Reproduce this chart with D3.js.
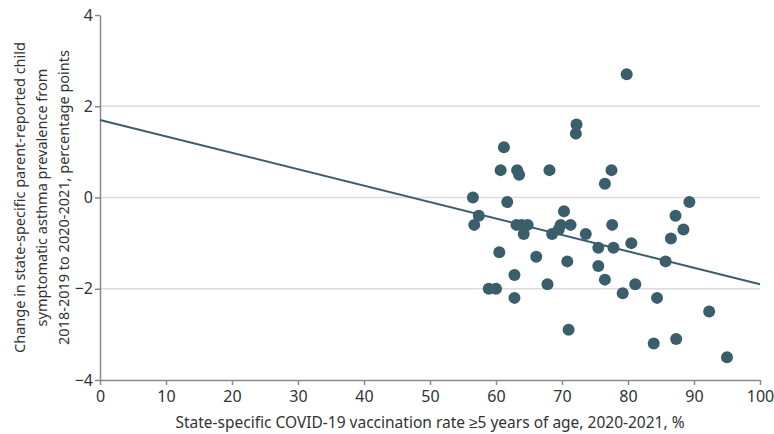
<!DOCTYPE html>
<html>
<head>
<meta charset="utf-8">
<script src="https://cdn.jsdelivr.net/npm/d3@7"></script>
<style>
  body { margin: 0; background: #fff; }
  text { font-family: "Noto Sans", sans-serif; fill: #333; }
</style>
</head>
<body>
<div id="chart"></div>
<script>
let width = 774
let height = 434

// vaccination rate (%) per state
let vaccRate = [56.5, 56.7, 57.4, 60.7, 61.2, 61.7, 60.5, 58.9, 60.0, 62.8,
  62.8, 63.2, 63.5, 63.1, 63.9, 64.2, 64.8, 66.1, 68.1, 68.5,
  67.8, 69.5, 69.8, 70.3, 70.8, 71.0, 71.3, 72.1, 72.2, 73.6,
  75.5, 75.5, 76.5, 76.5, 77.5, 77.6, 77.8, 79.2, 79.8, 80.5,
  81.1, 83.9, 84.4, 85.7, 86.5, 87.3, 87.2, 88.4, 89.3, 92.3, 95.0]

// change in asthma prevalence, percentage points
let asthmaChange = [0.0, -0.6, -0.4, 0.6, 1.1, -0.1, -1.2, -2.0, -2.0, -1.7,
  -2.2, 0.6, 0.5, -0.6, -0.6, -0.8, -0.6, -1.3, 0.6, -0.8,
  -1.9, -0.7, -0.6, -0.3, -1.4, -2.9, -0.6, 1.4, 1.6, -0.8,
  -1.1, -1.5, 0.3, -1.8, 0.6, -0.6, -1.1, -2.1, 2.7, -1.0,
  -1.9, -3.2, -2.2, -1.4, -0.9, -3.1, -0.4, -0.7, -0.1, -2.5, -3.5]

// fitted line endpoints
let fitX = [0, 100]
let fitY = [1.7, -1.9]

let xTicks = [0, 10, 20, 30, 40, 50, 60, 70, 80, 90, 100]
let yTicks = [-4, -2, 0, 2, 4]

let points = vaccRate.map((v, i) => ({ x: v, y: asthmaChange[i] }))

let margin = { left: 100, right: 14, top: 15, bottom: 54 }

let x = d3.scaleLinear().domain([0, 100]).range([margin.left, width - margin.right])
let y = d3.scaleLinear().domain([-4, 4]).range([height - margin.bottom, margin.top])

let svg = d3.select("#chart")
  .append("svg")
  .attr("width", width)
  .attr("height", height)

// gridlines
svg.append("g")
  .selectAll("line")
  .data(yTicks.filter(d => d > -4 && d < 4))
  .enter()
  .append("line")
    .attr("x1", x(0))
    .attr("x2", x(100))
    .attr("y1", d => y(d))
    .attr("y2", d => y(d))
    .attr("stroke", "#dcdcdc")
    .attr("stroke-width", 1.5)

let xAxis = svg.append("g")
  .attr("transform", `translate(0,${y(-4)})`)
  .call(d3.axisBottom(x).tickValues(xTicks).tickSize(5).tickSizeOuter(0))

let yAxis = svg.append("g")
  .attr("transform", `translate(${x(0)},0)`)
  .call(d3.axisLeft(y).tickValues(yTicks).tickSize(5).tickSizeOuter(0))

;[xAxis, yAxis].forEach(a => {
  a.select(".domain").attr("stroke", "#8a8a8a").attr("stroke-width", 1.5)
  a.selectAll(".tick line").attr("stroke", "#8a8a8a").attr("stroke-width", 1.5)
  a.selectAll(".tick text")
    .style("font-family", '"Noto Sans", sans-serif')
    .style("font-size", "16px")
    .attr("fill", "#333")
})
xAxis.selectAll(".tick text").attr("dy", "0.85em")
yAxis.selectAll(".tick text").attr("x", -7)

// regression line
svg.append("line")
  .attr("x1", x(fitX[0]))
  .attr("y1", y(fitY[0]))
  .attr("x2", x(fitX[1]))
  .attr("y2", y(fitY[1]))
  .attr("stroke", "#3b5e6b")
  .attr("stroke-width", 2)

// points
svg.append("g")
  .selectAll("circle")
  .data(points)
  .enter()
  .append("circle")
    .attr("cx", d => x(d.x))
    .attr("cy", d => y(d.y))
    .attr("r", 6)
    .style("fill", "#3b5e6b")

// axis titles
svg.append("text")
  .attr("x", (x(0) + x(100)) / 2)
  .attr("y", 428)
  .attr("text-anchor", "middle")
  .style("font-size", "15.5px")
  .text("State-specific COVID-19 vaccination rate ≥5 years of age, 2020-2021, %")

let yTitle = ["Change in state-specific parent-reported child",
  "symptomatic asthma prevalence from",
  "2018-2019 to 2020-2021, percentage points"]

svg.append("g")
  .attr("transform", `translate(0,${y(0)}) rotate(-90)`)
  .selectAll("text")
  .data(yTitle)
  .enter()
  .append("text")
    .attr("x", 0)
    .attr("y", (d, i) => 25 + i * 22)
    .attr("text-anchor", "middle")
    .style("font-size", "14.5px")
    .text(d => d)
</script>
</body>
</html>
